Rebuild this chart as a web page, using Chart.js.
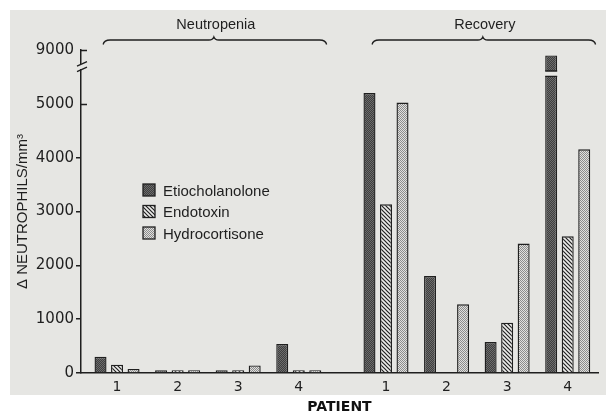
<!DOCTYPE html>
<html>
<head>
<meta charset="utf-8">
<script src="https://cdn.jsdelivr.net/npm/chart.js@4/dist/chart.umd.min.js"></script>
<style>
  html, body { margin: 0; padding: 0; background: #ffffff; }
  #c { display: block; }
</style>
</head>
<body>
<canvas id="c" width="606" height="414"></canvas>
<script>
// Change in neutrophil count per mm³ for patients 1–4, during neutropenia and in recovery
const patientLabels = ['1', '2', '3', '4'];
const groupNames = ['Neutropenia', 'Recovery'];
const seriesNames = ['Etiocholanolone', 'Endotoxin', 'Hydrocortisone'];
const etiocholanolone = [300, 50, 50, 540, 5200, 1800, 575, 8900];
const endotoxin       = [155, 50, 50, 50, 3135, 0, 935, 2540];
const hydrocortisone  = [75, 50, 140, 50, 5025, 1275, 2405, 4155];
const yTickValues = [0, 1000, 2000, 3000, 4000, 5000, 9000];

// layout of the patient axis: each group starts at its own x position
const GROUP_START = [1, 5.44];
// the value axis is cut between these two values
const BREAK_LO = 5600, BREAK_HI = 8600;

const INK = '#1f1f1f';
const PAPER = '#e6e6e3';

const xPositions = GROUP_START.flatMap(s => patientLabels.map((_, i) => s + i));
const xTickLabels = groupNames.flatMap(() => patientLabels);

// linear scale with a cut: values above BREAK_HI are shifted down next to BREAK_LO
function fold(v) {
  if (v <= BREAK_LO) return v;
  if (v >= BREAK_HI) return v - (BREAK_HI - BREAK_LO);
  return BREAK_LO;
}
class BrokenLinearScale extends Chart.LinearScale {
  static id = 'brokenLinear';
  static defaults = Chart.LinearScale.defaults;
  getPixelForValue(value) {
    return super.getPixelForValue(value == null ? value : fold(value));
  }
  getValueForPixel(pixel) {
    const v = super.getValueForPixel(pixel);
    return v <= BREAK_LO ? v : v + (BREAK_HI - BREAK_LO);
  }
}
Chart.register(BrokenLinearScale);

const canvas = document.getElementById('c');
const ctx = canvas.getContext('2d');

function makePattern(size, draw) {
  const tile = document.createElement('canvas');
  tile.width = tile.height = size;
  draw(tile.getContext('2d'), size);
  return ctx.createPattern(tile, 'repeat');
}
const stipple = makePattern(2, g => {
  g.fillStyle = '#3f3f3f'; g.fillRect(0, 0, 2, 2);
  g.fillStyle = '#6c6c6c'; g.fillRect(0, 0, 1, 1); g.fillRect(1, 1, 1, 1);
});
const hatch = makePattern(4, (g, s) => {
  g.fillStyle = '#ededeb'; g.fillRect(0, 0, s, s);
  g.strokeStyle = '#202020'; g.lineWidth = 1.2;
  g.beginPath();
  g.moveTo(-1, -1); g.lineTo(s + 1, s + 1);
  g.moveTo(-1, s - 1); g.lineTo(1, s + 1);
  g.moveTo(s - 1, -1); g.lineTo(s + 1, 1);
  g.stroke();
});
const checker = makePattern(2, g => {
  g.fillStyle = '#e0e0de'; g.fillRect(0, 0, 2, 2);
  g.fillStyle = '#8c8c8c'; g.fillRect(0, 0, 1, 1); g.fillRect(1, 1, 1, 1);
});

const fills = [stipple, hatch, checker];
const seriesValues = [etiocholanolone, endotoxin, hydrocortisone];

const datasets = seriesValues.map((vals, k) => ({
  label: seriesNames[k],
  data: vals.map((v, i) => ({ x: xPositions[i], y: v })),
  backgroundColor: fills[k],
  borderColor: INK,
  borderWidth: 1.4,
  categoryPercentage: 0.818,
  barPercentage: 0.727
}));

// page background: white sheet with the grey plate behind the figure
const paperPlugin = {
  id: 'paper',
  beforeDraw(chart) {
    const c = chart.ctx;
    c.save();
    c.fillStyle = '#ffffff';
    c.fillRect(0, 0, chart.width, chart.height);
    c.fillStyle = PAPER;
    c.fillRect(10, 10, chart.width - 10, 385);
    c.restore();
  }
};

const decorPlugin = {
  id: 'decor',
  afterDraw(chart) {
    const c = chart.ctx;
    const xs = chart.scales.x, ys = chart.scales.y;
    const left = chart.chartArea.left;
    c.save();

    // cut through any bar that crosses the axis break
    chart.data.datasets.forEach((ds, di) => {
      const meta = chart.getDatasetMeta(di);
      ds.data.forEach((pt, i) => {
        if (pt.y <= BREAK_HI) return;
        const bar = meta.data[i];
        const { x, width } = bar.getProps(['x', 'width'], true);
        const yTop = ys.getPixelForValue(BREAK_HI + 10);
        const yBot = ys.getPixelForValue(BREAK_LO - 90);
        c.fillStyle = PAPER;
        c.fillRect(x - width / 2 - 2, yTop, width + 4, yBot - yTop);
        c.strokeStyle = INK; c.lineWidth = 1.4;
        c.beginPath();
        c.moveTo(x - width / 2, yTop); c.lineTo(x + width / 2, yTop);
        c.moveTo(x - width / 2, yBot); c.lineTo(x + width / 2, yBot);
        c.stroke();
      });
    });

    // break mark on the value axis
    const yb = ys.getPixelForValue(BREAK_LO) - 5;
    c.fillStyle = PAPER;
    c.fillRect(left - 3, yb - 2.5, 6, 5);
    c.strokeStyle = INK; c.lineWidth = 1.3;
    c.beginPath();
    c.moveTo(left - 4, yb - 0.5); c.lineTo(left + 6, yb - 5);
    c.moveTo(left - 4, yb + 5); c.lineTo(left + 6, yb + 0.5);
    c.stroke();

    // inward ticks on the upper part of the axis
    c.lineWidth = 1.5;
    c.beginPath();
    yTickValues.filter(v => v >= 5000).forEach(v => {
      const y = Math.round(ys.getPixelForValue(v)) + 0.5;
      c.moveTo(left, y); c.lineTo(left + 6, y);
    });
    c.stroke();

    // braces with group names
    c.lineWidth = 1.3;
    c.fillStyle = INK;
    c.font = '14.5px "Liberation Sans", sans-serif';
    c.textAlign = 'center';
    c.textBaseline = 'alphabetic';
    groupNames.forEach((name, g) => {
      const x1 = xs.getPixelForValue(GROUP_START[g] - 0.23);
      const x2 = xs.getPixelForValue(GROUP_START[g] + patientLabels.length - 1 + 0.46);
      const mid = (x1 + x2) / 2 - 1;
      const yl = 40;
      c.beginPath();
      c.moveTo(x1, yl + 4.5);
      c.quadraticCurveTo(x1 + 1, yl, x1 + 7, yl);
      c.lineTo(mid - 5, yl);
      c.quadraticCurveTo(mid - 1, yl, mid, yl - 3);
      c.quadraticCurveTo(mid + 1, yl, mid + 5, yl);
      c.lineTo(x2 - 7, yl);
      c.quadraticCurveTo(x2 - 1, yl, x2, yl + 4.5);
      c.stroke();
      c.fillText(name, mid + 2, 29);
    });

    // legend
    c.textAlign = 'left';
    c.font = '15px "Liberation Sans", sans-serif';
    seriesNames.forEach((name, k) => {
      const yc = 190 + k * 21.5;
      c.fillStyle = fills[k];
      c.fillRect(143, yc - 6, 12, 12);
      c.strokeStyle = INK; c.lineWidth = 1.3;
      c.strokeRect(143, yc - 6, 12, 12);
      c.fillStyle = INK;
      c.fillText(name, 163, yc + 5.5);
    });

    c.restore();
  }
};

new Chart(ctx, {
  type: 'bar',
  data: { datasets },
  options: {
    responsive: false,
    animation: false,
    devicePixelRatio: 1,
    layout: { padding: { top: 50, right: 8, bottom: 0, left: 0 } },
    plugins: { legend: { display: false }, tooltip: { enabled: false } },
    scales: {
      x: {
        type: 'linear',
        offset: false,
        min: 0.405,
        max: 8.94,
        grid: { display: false, drawTicks: false, offset: false },
        border: { display: true, color: INK, width: 1.5 },
        afterBuildTicks: s => { s.ticks = xPositions.map(v => ({ value: v })); },
        afterFit: s => { s.height = 41; },
        ticks: {
          autoSkip: false, maxRotation: 0, padding: 6, color: INK,
          font: { family: 'DejaVu Sans', size: 14 },
          callback: (v, i) => xTickLabels[i]
        },
        title: {
          display: true, text: 'PATIENT', color: '#111',
          font: { family: 'DejaVu Sans', size: 14, weight: 'bold', lineHeight: 1 },
          padding: { top: 0, bottom: 0 }
        }
      },
      y: {
        type: 'brokenLinear',
        min: 0,
        max: fold(9000),
        grid: {
          drawOnChartArea: false, drawTicks: true, tickLength: 5, lineWidth: 1.5,
          tickColor: c => (c.tick && c.tick.value >= 5000) ? 'rgba(0,0,0,0)' : INK
        },
        border: { display: true, color: INK, width: 1.5 },
        afterBuildTicks: s => { s.ticks = yTickValues.map(v => ({ value: v })); },
        afterFit: s => { s.width = 81; },
        ticks: {
          autoSkip: false, padding: 2, color: INK,
          font: { family: 'DejaVu Sans', size: 15 },
          callback: v => String(v)
        },
        title: {
          display: true, text: 'Δ NEUTROPHILS/mm³', color: INK,
          font: { family: 'Liberation Sans', size: 15, lineHeight: 1 },
          padding: { top: 15, bottom: 0 }
        }
      }
    }
  },
  plugins: [paperPlugin, decorPlugin]
});
</script>
</body>
</html>
